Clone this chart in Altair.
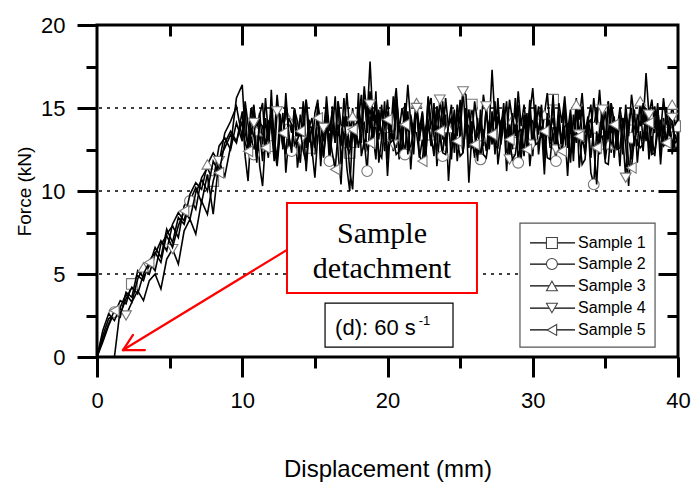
import altair as alt
import pandas as pd

# ---------------- data ----------------
rise_x = [round(i * 0.4, 1) for i in range(25)]          # 0.0 .. 9.6 mm
plat_x = [round(10 + i * 0.2, 1) for i in range(151)]    # 10.0 .. 40.0 mm

rise1 = [0.0, 1.3, 2.3, 2.6, 3.4, 3.2, 4.4, 4.9, 4.6, 5.8, 6.3, 5.7, 7.4, 7.9, 7.2, 9.1, 9.6, 8.9, 10.8, 11.4,
         10.6, 12.7, 13.2, 12.5, 14.1]
rise2 = [0.0, 0.9, 1.9, 2.7, 2.4, 3.9, 3.6, 5.2, 4.8, 5.5, 6.6, 6.0, 7.7, 6.9, 8.4, 8.0, 9.4, 10.2, 9.3, 11.0,
         8.6, 11.9, 12.6, 13.4, 12.9]
rise3 = [0.0, 1.6, 2.6, 2.2, 3.0, 3.8, 3.3, 4.7, 5.4, 5.0, 6.2, 7.0, 6.4, 8.0, 8.7, 8.2, 9.8, 10.5, 10.1, 11.6,
         12.3, 11.7, 13.5, 14.2, 15.1]
rise4 = [0.0, 0.0, 0.0, 0.0, 2.9, 2.5, 3.3, 4.0, 3.4, 4.6, 5.0, 4.1, 5.9, 6.5, 5.6, 7.6, 8.3, 7.4, 9.4, 8.6,
         10.6, 11.8, 10.9, 12.7, 15.6]
rise5 = [0.0, 1.1, 2.0, 2.8, 2.6, 3.5, 4.2, 3.8, 5.0, 5.7, 5.2, 6.8, 7.3, 6.6, 7.9, 8.8, 8.3, 9.9, 10.7, 10.0,
         11.8, 11.1, 12.9, 13.6, 13.0]

plat1 = [13.0, 14.9, 12.3, 14.1, 15.2, 12.0, 13.6, 11.8, 14.4, 12.7,
         15.0, 13.2, 11.9, 14.6, 12.5, 15.3, 13.4, 12.1, 14.8, 13.0,
         11.7, 14.2, 15.5, 12.6, 13.9, 12.2, 14.7, 11.9, 13.8, 15.1,
         12.4, 14.0, 12.9, 15.4, 11.6, 13.7, 14.5, 12.3, 15.0, 12.8,
         14.3, 15.8, 12.5, 13.9, 16.0, 12.7, 14.6, 13.1, 15.2, 12.4,
         14.8, 13.3, 15.7, 12.6, 14.1, 12.0, 15.3, 13.6, 14.4, 12.2,
         15.1, 13.0, 14.7, 12.5, 15.6, 13.4, 12.1, 14.9, 13.2, 15.4,
         12.8, 14.2, 11.9, 14.6, 13.3, 15.5, 12.4, 14.0, 12.9, 15.2,
         13.5, 11.8, 14.3, 12.7, 15.0, 13.1, 14.8, 12.2, 14.5, 13.6,
         15.3, 12.3, 14.1, 12.9, 15.6, 13.2, 11.9, 14.4, 12.6, 14.9,
         12.1, 14.7, 13.4, 15.2, 12.5, 14.0, 13.0, 15.5, 12.8, 14.3,
         12.4, 14.9, 13.3, 11.7, 14.6, 12.9, 15.1, 13.5, 12.2, 14.2,
         12.0, 13.8, 15.0, 12.6, 14.5, 13.1, 15.4, 12.3, 14.1, 12.8,
         14.6, 12.2, 15.2, 13.4, 11.9, 14.3, 12.7, 15.1, 13.0, 14.8,
         12.5, 14.0, 13.5, 15.3, 12.1, 14.4, 12.9, 14.7, 12.6, 13.9,
         13.4]
plat2 = [14.8, 12.1, 10.6, 13.5, 12.2, 14.4, 11.5, 10.3, 13.1, 12.0,
         16.1, 12.6, 11.5, 13.4, 14.7, 11.1, 13.2, 12.4, 14.9, 11.4,
         12.9, 14.1, 11.2, 13.6, 12.5, 10.8, 13.3, 14.2, 12.0, 14.6,
         11.8, 13.5, 15.7, 12.3, 10.4, 14.0, 11.4, 10.0, 13.7, 12.6,
         15.9, 12.1, 13.0, 11.2, 14.5, 12.6, 16.0, 11.7, 13.2, 14.4,
         10.9, 13.8, 12.4, 15.2, 11.9, 13.6, 12.2, 14.8, 11.3, 13.9,
         15.5, 12.0, 13.1, 11.6, 14.2, 12.7, 15.3, 11.5, 13.4, 12.1,
         14.6, 10.6, 13.2, 14.9, 11.8, 13.6, 12.3, 15.0, 10.5, 13.3,
         12.0, 14.4, 11.9, 13.7, 12.4, 14.1, 12.8, 15.4, 11.6, 13.0,
         14.5, 11.2, 13.8, 12.5, 15.1, 11.7, 13.4, 12.1, 14.7, 11.5,
         13.3, 15.2, 12.2, 13.9, 11.0, 14.3, 12.6, 13.5, 11.8, 14.8,
         12.3, 13.7, 10.9, 14.0, 12.7, 15.6, 11.4, 13.1, 12.5, 14.2,
         11.1, 10.4, 13.6, 12.2, 14.7, 11.9, 13.4, 15.3, 12.0, 13.8,
         11.5, 14.4, 12.8, 10.3, 13.2, 14.9, 11.7, 13.6, 12.4, 15.0,
         11.9, 13.3, 12.1, 14.5, 11.6, 13.9, 12.7, 14.1, 12.2, 13.4,
         12.8]
plat3 = [13.2, 15.4, 14.0, 12.9, 15.1, 13.6, 14.7, 12.8, 15.6, 13.4,
         14.9, 13.1, 15.8, 13.9, 12.7, 15.2, 14.3, 13.5, 15.0, 12.9,
         14.6, 13.2, 15.5, 13.8, 14.4, 12.6, 15.3, 14.1, 13.0, 15.7,
         13.6, 14.8, 12.9, 15.4, 14.0, 13.3, 15.9, 13.7, 14.5, 12.8,
         15.1, 13.9, 16.3, 14.4, 17.8, 14.2, 15.6, 13.5, 14.9, 13.8,
         15.5, 13.3, 14.7, 16.2, 13.6, 15.0, 13.9, 16.4, 14.1, 13.4,
         15.3, 13.7, 14.8, 12.9, 15.7, 14.2, 13.6, 15.1, 14.5, 13.1,
         15.6, 13.8, 14.4, 12.9, 15.2, 14.0, 16.1, 13.5, 14.9, 13.2,
         15.4, 14.1, 13.3, 15.8, 14.6, 13.7, 17.3, 14.2, 15.0, 13.4,
         14.8, 13.1, 15.5, 14.3, 13.6, 16.0, 13.9, 15.2, 13.5, 14.7,
         16.2, 13.8, 15.1, 13.2, 14.6, 15.9, 13.7, 14.4, 13.0, 15.3,
         14.1, 15.7, 13.6, 14.9, 12.9, 15.2, 14.3, 15.9, 13.5, 14.5,
         13.2, 15.6, 14.0, 16.1, 13.7, 14.8, 12.8, 15.3, 14.2, 13.6,
         15.0, 13.9, 14.7, 13.3, 15.8, 14.4, 13.5, 15.4, 14.0, 17.1,
         14.6, 15.5, 13.8, 14.9, 13.4, 15.6, 14.1, 13.7, 15.2, 14.0,
         14.3]
plat4 = [16.4, 13.5, 12.8, 15.0, 14.1, 11.7, 14.6, 15.3, 12.5, 14.2,
         13.9, 11.8, 14.8, 14.6, 12.7, 15.9, 13.4, 12.3, 14.9, 14.2,
         13.0, 15.4, 12.6, 14.3, 12.1, 14.7, 15.5, 11.5, 13.8, 14.5,
         12.4, 15.1, 13.2, 14.0, 12.7, 15.6, 13.6, 11.2, 10.1, 13.7,
         14.3, 12.9, 15.8, 13.5, 15.2, 13.4, 11.9, 14.9, 13.1, 15.4,
         11.9, 14.4, 12.8, 15.7, 14.0, 13.1, 15.3, 12.2, 14.6, 13.5,
         15.0, 13.3, 14.1, 11.6, 14.8, 15.6, 13.3, 12.4, 15.5, 14.1,
         12.7, 14.0, 15.2, 12.3, 14.7, 13.4, 16.0, 15.8, 12.6, 14.2,
         13.7, 11.8, 14.9, 13.0, 15.1, 12.5, 14.4, 13.1, 15.6, 12.8,
         14.0, 15.4, 11.9, 14.7, 13.3, 15.2, 12.4, 14.6, 13.0, 15.5,
         12.8, 14.3, 13.6, 15.0, 11.9, 14.7, 13.3, 15.8, 12.5, 14.1,
         13.0, 15.3, 12.6, 14.5, 11.8, 14.9, 13.4, 15.1, 12.9, 14.2,
         15.2, 12.7, 10.4, 13.6, 14.9, 12.4, 15.4, 13.5, 14.5, 12.6,
         14.3, 13.2, 10.8, 14.1, 15.0, 12.7, 14.6, 13.9, 15.3, 13.0,
         14.6, 12.2, 15.1, 13.6, 14.3, 12.8, 15.0, 13.3, 14.4, 12.9,
         13.1]
plat5 = [14.2, 12.9, 12.4, 13.8, 13.3, 12.0, 14.1, 13.9, 12.6, 13.4,
         14.3, 12.8, 11.9, 13.7, 13.5, 12.2, 14.4, 14.0, 12.8, 13.1,
         13.6, 12.4, 11.7, 13.9, 13.8, 12.6, 14.4, 13.0, 12.1, 13.7,
         13.4, 12.3, 11.3, 13.6, 13.0, 14.5, 12.7, 12.3, 13.7, 14.0,
         12.6, 13.9, 14.1, 12.5, 12.9, 13.8, 13.8, 12.3, 12.0, 14.1,
         14.3, 12.9, 13.1, 12.2, 12.4, 13.9, 14.0, 12.5, 12.7, 13.6,
         13.5, 12.1, 11.8, 13.8, 14.2, 12.9, 12.5, 13.9, 13.6, 12.3,
         12.2, 14.0, 14.4, 12.8, 13.0, 12.1, 12.3, 14.1, 13.9, 12.6,
         12.8, 13.4, 14.1, 12.2, 12.0, 13.3, 13.4, 12.7, 12.6, 14.2,
         14.6, 13.0, 13.1, 11.9, 12.2, 13.6, 13.7, 12.4, 12.5, 14.4,
         14.2, 12.8, 12.9, 13.5, 13.6, 12.0, 11.9, 13.8, 13.8, 12.6,
         12.4, 13.9, 14.0, 12.3, 12.7, 13.5, 13.3, 11.6, 11.9, 14.1,
         14.3, 12.7, 12.6, 13.2, 13.3, 11.7, 11.6, 13.8, 14.0, 12.5,
         12.6, 14.3, 14.4, 11.6, 11.4, 13.2, 13.0, 12.6, 12.8, 14.0,
         14.1, 12.2, 12.3, 13.5, 13.4, 12.7, 12.9, 14.4, 14.2, 12.5,
         12.7]

names = ["Sample 1", "Sample 2", "Sample 3", "Sample 4", "Sample 5"]
series = [rise1 + plat1, rise2 + plat2, rise3 + plat3, rise4 + plat4, rise5 + plat5]
x_all = rise_x + plat_x
shapes = ["square", "circle", "triangle-up", "triangle-down", "triangle-left"]
marker_every = [14, 13, 11, 8, 6]
marker_offset = [6, 3, 8, 5, 3]

grid_vals = [5, 10, 15]

# annotation geometry (data coordinates)
red_box = pd.DataFrame({"x1": [13.08], "x2": [26.16], "y1": [3.86], "y2": [9.28]})
arrow = pd.DataFrame({"x1": [13.08, 1.79, 1.79], "y1": [6.45, 0.42, 0.42],
                      "x2": [1.79, 3.30, 2.48], "y2": [0.42, 0.42, 1.33]})
serif_text = pd.DataFrame({"x": [19.62, 19.62], "y": [6.87, 4.76], "t": ["Sample", "detachment"]})
rate_box = pd.DataFrame({"x1": [15.70], "x2": [24.51], "y1": [0.60], "y2": [3.25]})
rate_text = pd.DataFrame({"x": [16.39], "y": [1.33], "t": ["(d): 60 s"]})
rate_sup = pd.DataFrame({"x": [22.15], "y": [1.93], "t": ["-1"]})

leg_box = pd.DataFrame({"x1": [29.12], "x2": [38.42], "y1": [0.60], "y2": [8.07]})
leg_rows = [6.87, 5.60, 4.28, 2.95, 1.63]
legend_df = pd.DataFrame({"name": names, "shape": shapes, "y": leg_rows,
                          "lx1": [29.81] * 5, "lx2": [32.91] * 5, "mx": [31.32] * 5, "tx": [33.12] * 5})

# ---------------- chart ----------------
xs = alt.Scale(domain=[0, 40], nice=False, zero=False)
ys = alt.Scale(domain=[0, 20], nice=False, zero=False)

layers = []

grid = alt.Chart(pd.DataFrame({"g": grid_vals})).mark_rule(
    color="black", strokeWidth=1.3, strokeDash=[3, 5]
).encode(y=alt.Y("g:Q", scale=ys, axis=None))
layers.append(grid)

main_x_axis = alt.Axis(orient="bottom", values=[0, 10, 20, 30, 40], tickSize=20, tickWidth=3,
                       tickColor="black", labelFontSize=22, labelPadding=13, labelColor="black",
                       title="Displacement (mm)", titleFontSize=24, titlePadding=46,
                       titleFontWeight="normal", domain=False, grid=False, labelFlush=False)
main_y_axis = alt.Axis(orient="left", values=[0, 5, 10, 15, 20], tickSize=20, tickWidth=3,
                       tickColor="black", labelFontSize=22, labelPadding=12, labelColor="black",
                       title="Force (kN)", titleFontSize=19, titlePadding=6,
                       titleFontWeight="normal", domain=False, grid=False)

for k, (nm, vals, shp) in enumerate(zip(names, series, shapes)):
    df = pd.DataFrame({"x": x_all, "y": vals})
    df["idx"] = range(len(df))
    mk = df[(df["idx"] % marker_every[k]) == marker_offset[k]]
    if k == 0:
        xe = alt.X("x:Q", scale=xs, axis=main_x_axis)
        ye = alt.Y("y:Q", scale=ys, axis=main_y_axis)
    else:
        xe = alt.X("x:Q", scale=xs, axis=None)
        ye = alt.Y("y:Q", scale=ys, axis=None)
    line = alt.Chart(df).mark_line(color="black", strokeWidth=1.6).encode(x=xe, y=ye)
    pts = alt.Chart(mk).mark_point(shape=shp, filled=True, fill="white", stroke="#777777",
                                   strokeWidth=1.1, size=115, opacity=1).encode(
        x=alt.X("x:Q", scale=xs, axis=None), y=alt.Y("y:Q", scale=ys, axis=None))
    layers += [line, pts]

carrier = pd.DataFrame({"x": [0, 40], "y": [0, 20]})


def axis_layer(xax, yax):
    return alt.Chart(carrier).mark_point(opacity=0).encode(
        x=alt.X("x:Q", scale=xs, axis=xax, title=None),
        y=alt.Y("y:Q", scale=ys, axis=yax, title=None))


tick_common = dict(labels=False, domain=False, grid=False, tickColor="black", tickWidth=3)
layers.append(axis_layer(
    alt.Axis(orient="bottom", values=[5, 15, 25, 35], tickSize=11, **tick_common),
    alt.Axis(orient="left", values=[2.5, 7.5, 12.5, 17.5], tickSize=11, **tick_common)))
layers.append(axis_layer(
    alt.Axis(orient="top", values=[10, 20, 30], tickSize=20, offset=-20, **tick_common),
    alt.Axis(orient="right", values=[5, 10, 15], tickSize=20, offset=-20, **tick_common)))
layers.append(axis_layer(
    alt.Axis(orient="top", values=[5, 15, 25, 35], tickSize=11, offset=-11, **tick_common),
    alt.Axis(orient="right", values=[2.5, 7.5, 12.5, 17.5], tickSize=11, offset=-11, **tick_common)))

# annotation: red box + arrow + text
layers.append(alt.Chart(red_box).mark_rect(fill="white", stroke="#ff0000", strokeWidth=2).encode(
    x=alt.X("x1:Q", scale=xs, axis=None), x2="x2:Q",
    y=alt.Y("y1:Q", scale=ys, axis=None), y2="y2:Q"))
layers.append(alt.Chart(arrow).mark_rule(color="#ff0000", strokeWidth=2.2, strokeCap="round").encode(
    x=alt.X("x1:Q", scale=xs, axis=None), x2="x2:Q",
    y=alt.Y("y1:Q", scale=ys, axis=None), y2="y2:Q"))
layers.append(alt.Chart(serif_text).mark_text(font="Liberation Serif", fontSize=30, align="center",
                                              baseline="alphabetic", color="black").encode(
    x=alt.X("x:Q", scale=xs, axis=None), y=alt.Y("y:Q", scale=ys, axis=None), text="t:N"))

# rate box
layers.append(alt.Chart(rate_box).mark_rect(fill="white", stroke="black", strokeWidth=1.2).encode(
    x=alt.X("x1:Q", scale=xs, axis=None), x2="x2:Q",
    y=alt.Y("y1:Q", scale=ys, axis=None), y2="y2:Q"))
layers.append(alt.Chart(rate_text).mark_text(font="Liberation Sans", fontSize=22, align="left",
                                             baseline="alphabetic", color="black").encode(
    x=alt.X("x:Q", scale=xs, axis=None), y=alt.Y("y:Q", scale=ys, axis=None), text="t:N"))
layers.append(alt.Chart(rate_sup).mark_text(font="Liberation Sans", fontSize=13, align="left",
                                            baseline="alphabetic", color="black").encode(
    x=alt.X("x:Q", scale=xs, axis=None), y=alt.Y("y:Q", scale=ys, axis=None), text="t:N"))

# legend
layers.append(alt.Chart(leg_box).mark_rect(fill="white", stroke="#555555", strokeWidth=1.2).encode(
    x=alt.X("x1:Q", scale=xs, axis=None), x2="x2:Q",
    y=alt.Y("y1:Q", scale=ys, axis=None), y2="y2:Q"))
layers.append(alt.Chart(legend_df).mark_rule(color="black", strokeWidth=1.2).encode(
    x=alt.X("lx1:Q", scale=xs, axis=None), x2="lx2:Q",
    y=alt.Y("y:Q", scale=ys, axis=None)))
layers.append(alt.Chart(legend_df).mark_point(filled=True, fill="white", stroke="#444444",
                                              strokeWidth=1.1, size=120, opacity=1).encode(
    x=alt.X("mx:Q", scale=xs, axis=None), y=alt.Y("y:Q", scale=ys, axis=None),
    shape=alt.Shape("shape:N", scale=None)))
layers.append(alt.Chart(legend_df).mark_text(font="Liberation Sans", fontSize=16, align="left",
                                             baseline="middle", color="black").encode(
    x=alt.X("tx:Q", scale=xs, axis=None), y=alt.Y("y:Q", scale=ys, axis=None), text="name:N"))

chart = alt.layer(*layers).resolve_axis(x="independent", y="independent").properties(
    width=581, height=332,
    autosize=alt.AutoSizeParams(type="none"),
    padding={"left": 97, "top": 25, "right": 17, "bottom": 134},
    background="white",
).configure_view(stroke="black", strokeWidth=3).configure_axis(
    labelFont="Liberation Sans", titleFont="Liberation Sans", titleColor="black", labelColor="black"
)

chart.save("out.html", embed_options={"renderer": "svg", "actions": False})
